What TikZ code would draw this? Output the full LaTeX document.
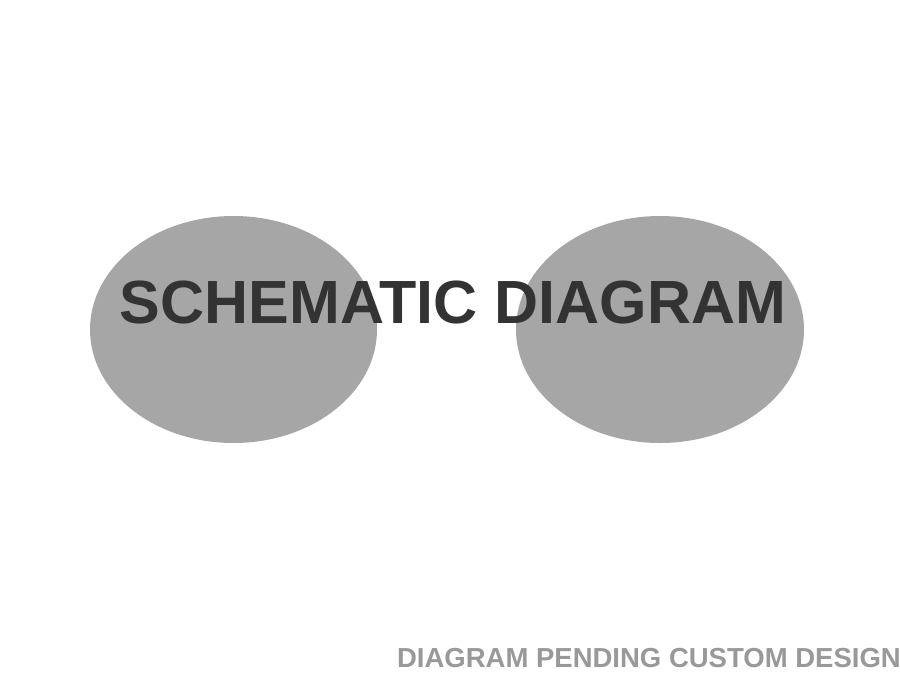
\documentclass[tikz,border=0pt]{standalone}
\usepackage{fontspec}
\setmainfont{Liberation Sans}
\definecolor{blobgray}{HTML}{A6A6A6}
\definecolor{titlegray}{HTML}{333333}
\definecolor{notegray}{HTML}{999999}
\begin{document}
\begin{tikzpicture}[x=1pt,y=-1pt,
  blob/.style={fill=blobgray,draw=none,ellipse},
  title/.style={text=titlegray,font=\fontsize{61}{61}\selectfont\bfseries,inner sep=0pt},
  note/.style={text=notegray,font=\fontsize{27.5}{27.5}\selectfont\bfseries,inner sep=0pt}]
\useasboundingbox[fill=white] (0,0) rectangle (900,675);
\fill[blobgray] (233.5,329.5) ellipse [x radius=143.5, y radius=113.5];
\fill[blobgray] (660,329.5) ellipse [x radius=144, y radius=113.5];
\node[title,anchor=base] (t) at (453,323) {SCHEMATIC DIAGRAM};
\node[note,anchor=base east] (n) at (901,667) {DIAGRAM PENDING CUSTOM DESIGN};
\end{tikzpicture}
\end{document}
